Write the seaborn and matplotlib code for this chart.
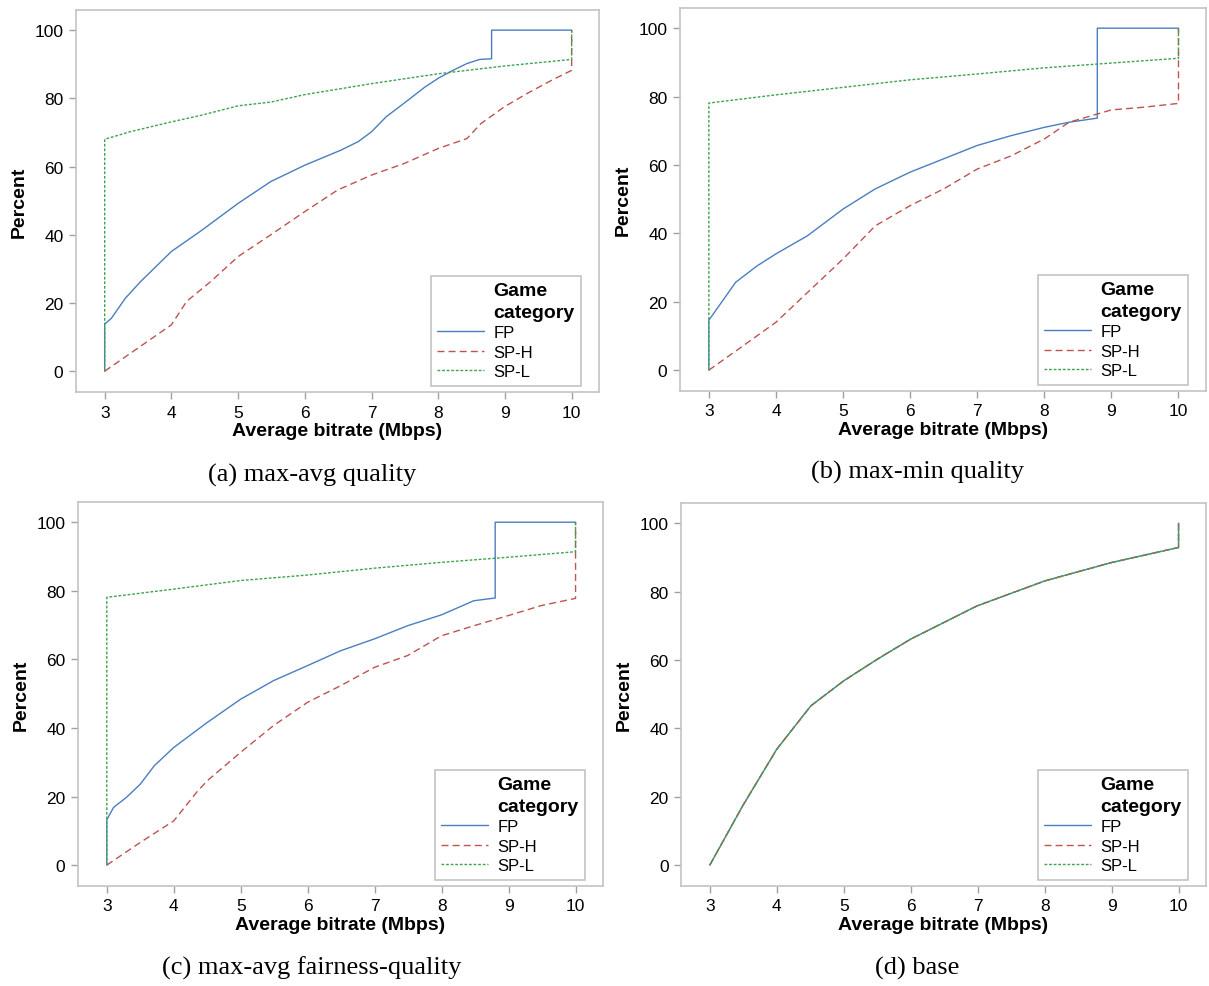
import numpy as np
import pandas as pd
import seaborn as sns
import matplotlib.pyplot as plt
from matplotlib.lines import Line2D

# values (bitrate in Mbps, cumulative percent)
# panel (a) max-avg quality
a_fp_x = [3.0, 3.0, 3.10, 3.31, 3.54, 4.0, 4.44, 5.0, 5.49, 6.0, 6.54, 6.80, 7.0, 7.22, 7.51, 7.80, 8.01, 8.22, 8.43, 8.62, 8.80, 8.80, 10.0]
a_fp_y = [0.0, 13.8, 15.5, 21.4, 26.3, 35.1, 41.1, 49.2, 55.6, 60.4, 64.8, 67.3, 70.2, 74.6, 78.9, 83.3, 86.0, 88.2, 90.2, 91.4, 91.6, 100.0, 100.0]
a_sph_x = [3.0, 4.0, 4.23, 4.59, 5.0, 5.49, 6.0, 6.49, 7.0, 7.49, 8.0, 8.43, 8.64, 8.99, 9.33, 9.70, 10.0, 10.0]
a_sph_y = [0.0, 13.6, 20.5, 26.3, 33.6, 40.0, 46.8, 53.1, 57.5, 60.9, 65.3, 68.2, 72.6, 77.5, 81.4, 85.3, 88.2, 100.0]
a_spl_x = [3.0, 3.0, 3.38, 4.0, 4.44, 5.0, 5.49, 6.0, 7.0, 8.0, 9.0, 10.0, 10.0]
a_spl_y = [0.0, 68.0, 70.2, 73.1, 75.0, 77.8, 78.9, 81.1, 84.3, 87.2, 89.5, 91.4, 100.0]

# panel (b) max-min quality
b_fp_x = [3.0, 3.0, 3.40, 3.72, 4.0, 4.47, 5.0, 5.48, 6.0, 6.50, 7.0, 7.51, 8.0, 8.37, 8.79, 8.79, 10.0]
b_fp_y = [0.0, 14.6, 25.7, 30.5, 34.0, 39.3, 47.1, 53.0, 57.9, 61.8, 65.7, 68.6, 71.0, 72.5, 73.7, 100.0, 100.0]
b_sph_x = [3.0, 3.51, 4.0, 4.47, 5.0, 5.48, 6.0, 6.50, 7.0, 7.51, 8.0, 8.37, 8.79, 9.0, 9.49, 10.0, 10.0]
b_sph_y = [0.0, 7.1, 14.0, 22.7, 32.5, 42.2, 48.1, 53.0, 58.8, 62.7, 67.6, 72.5, 74.9, 76.1, 76.9, 78.0, 100.0]
b_spl_x = [3.0, 3.0, 4.0, 5.0, 6.0, 7.0, 8.0, 9.0, 10.0, 10.0]
b_spl_y = [0.0, 78.1, 80.5, 82.7, 84.9, 86.6, 88.4, 89.8, 91.2, 100.0]

# panel (c) max-avg fairness-quality
c_fp_x = [3.0, 3.0, 3.10, 3.29, 3.50, 3.71, 4.0, 4.50, 5.0, 5.49, 6.0, 6.49, 7.0, 7.49, 8.0, 8.48, 8.80, 8.80, 10.0]
c_fp_y = [0.0, 13.2, 16.8, 19.7, 23.6, 29.0, 34.3, 41.6, 48.4, 53.8, 58.2, 62.5, 66.0, 69.8, 73.0, 77.1, 77.9, 100.0, 100.0]
c_sph_x = [3.0, 3.5, 4.0, 4.34, 4.50, 5.0, 5.49, 6.0, 6.49, 7.0, 7.49, 8.0, 8.48, 9.0, 9.49, 10.0, 10.0]
c_sph_y = [0.0, 6.6, 12.9, 21.2, 24.6, 32.9, 40.7, 47.5, 52.3, 57.7, 61.1, 66.9, 69.8, 72.8, 75.7, 77.8, 100.0]
c_spl_x = [3.0, 3.0, 4.0, 5.0, 6.0, 7.0, 8.0, 9.0, 10.0, 10.0]
c_spl_y = [0.0, 78.1, 80.5, 83.0, 84.6, 86.6, 88.3, 89.8, 91.4, 100.0]

# panel (d) base: all three categories coincide
d_x = [3.0, 3.49, 4.0, 4.51, 5.0, 5.50, 6.0, 6.99, 8.0, 9.0, 10.0, 10.0]
d_y = [0.0, 17.3, 33.9, 46.6, 53.9, 60.2, 66.1, 75.8, 83.1, 88.5, 92.9, 100.0]

categories = ["FP", "SP-H", "SP-L"]
captions = ["(a) max-avg quality", "(b) max-min quality",
            "(c) max-avg fairness-quality", "(d) base"]

panels = [
    [(a_fp_x, a_fp_y), (a_sph_x, a_sph_y), (a_spl_x, a_spl_y)],
    [(b_fp_x, b_fp_y), (b_sph_x, b_sph_y), (b_spl_x, b_spl_y)],
    [(c_fp_x, c_fp_y), (c_sph_x, c_sph_y), (c_spl_x, c_spl_y)],
    [(d_x, d_y), (d_x, d_y), (d_x, d_y)],
]

colors = {"FP": "#4a7ec0", "SP-H": "#bd5450", "SP-L": "#3da34c"}
dashes = {"FP": "", "SP-H": (5, 3), "SP-L": (2, 1.3)}

sns.set_style("white")
plt.rcParams["font.family"] = ["Liberation Sans", "DejaVu Sans"]
plt.rcParams["text.color"] = "black"
plt.rcParams["axes.labelcolor"] = "black"
plt.rcParams["xtick.labelcolor"] = "black"
plt.rcParams["ytick.labelcolor"] = "black"

fig = plt.figure(figsize=(12.09, 9.87), dpi=100)
W, H = 1209, 987
# axes boxes in pixels: left, right, top, bottom
boxes = [(76, 599, 11, 393), (680, 1206, 9, 392),
         (78, 603, 503, 887), (681, 1206, 504, 887)]
caption_pos = [(312, 475), (917, 472), (312, 968), (917, 968)]

for i, (series, box) in enumerate(zip(panels, boxes)):
    l, r, t, b = box
    ax = fig.add_axes([l / W, 1 - b / H, (r - l) / W, (b - t) / H])
    frames = []
    for cat, (xs, ys) in zip(categories, series):
        frames.append(pd.DataFrame({"bitrate": xs, "percent": ys, "category": cat}))
    df = pd.concat(frames, ignore_index=True)
    sns.lineplot(data=df, x="bitrate", y="percent", hue="category", style="category",
                 palette=colors, dashes=dashes, sort=False, estimator=None,
                 linewidth=1.0, legend=False, ax=ax)

    ax.set_xlim(2.57, 10.41)
    ax.set_ylim(-6.1, 105.9)
    ax.set_xticks(range(3, 11))
    ax.set_yticks(range(0, 101, 20))
    ax.tick_params(axis="both", direction="out", length=5, width=1, color="#a0a0a0",
                   labelsize=12.5, pad=4, bottom=True, left=True)
    for sp in ax.spines.values():
        sp.set_color("#c4c4c4")
        sp.set_linewidth(1.2)
    ax.set_xlabel("Average bitrate (Mbps)", fontsize=14, fontweight="bold", labelpad=2)
    ax.set_ylabel("Percent", fontsize=14, fontweight="bold", labelpad=5)

    # legend with the title laid out in the label column
    blank = Line2D([], [], color="none")
    handles = [blank, blank] + [
        Line2D([], [], color=colors[c], linewidth=1.0,
               linestyle="-" if dashes[c] == "" else (0, dashes[c]))
        for c in categories]
    leg = ax.legend(handles, ["Game", "category"] + categories,
                    loc="lower right", bbox_to_anchor=(0.966, 0.016),
                    borderaxespad=0, fontsize=12, handlelength=2.8,
                    handletextpad=0.55, labelspacing=0.27, borderpad=0.4,
                    fancybox=False, edgecolor="#c4c4c4", framealpha=1)
    leg.get_frame().set_linewidth(1.2)
    for txt in leg.get_texts()[:2]:
        txt.set_fontweight("bold")
        txt.set_fontsize(14)

    cx, cy = caption_pos[i]
    fig.text(cx / W, 1 - cy / H, captions[i], ha="center", va="center",
             fontsize=19, family="Liberation Serif")

fig.savefig("out.png", dpi=100)
